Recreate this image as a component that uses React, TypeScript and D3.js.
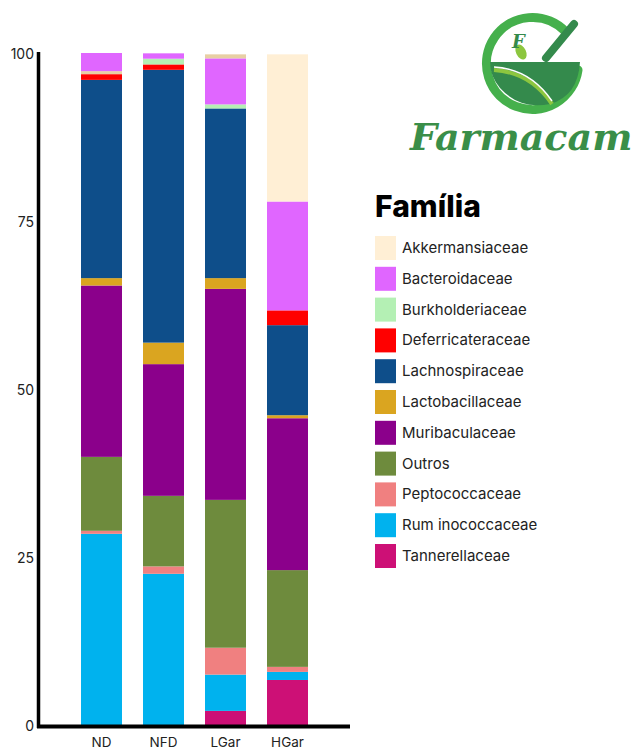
import React from 'react';
import * as d3 from 'd3';

// grupos no eixo x
const groups = ['ND', 'NFD', 'LGar', 'HGar'];

// famílias na ordem da legenda (topo da pilha -> base)
const families = [
  'Akkermansiaceae', 'Bacteroidaceae', 'Burkholderiaceae', 'Deferricateraceae',
  'Lachnospiraceae', 'Lactobacillaceae', 'Muribaculaceae', 'Outros',
  'Peptococcaceae', 'Rum inococcaceae', 'Tannerellaceae',
];
const familyColors = [
  '#ffefd5', '#e066ff', '#b4f0b4', '#ff0000', '#0e4e8a', '#daa520',
  '#8b008b', '#6e8b3d', '#f08080', '#00b2ee', '#cd1076',
];
// faixa fina sem legenda
const semLegenda = 'n.i.';
const semLegendaColor = '#e8cfa4';

// segmentos de cada barra, de cima para baixo (abundância relativa, %)
const ND: [string, number][] = [
  ['Bacteroidaceae', 2.7], [semLegenda, 0.45], ['Deferricateraceae', 0.85],
  ['Lachnospiraceae', 29.5], ['Lactobacillaceae', 1.1], ['Muribaculaceae', 25.5],
  ['Outros', 11], ['Peptococcaceae', 0.45], ['Rum inococcaceae', 28.45],
];
const NFD: [string, number][] = [
  ['Bacteroidaceae', 0.8], ['Burkholderiaceae', 0.85], ['Deferricateraceae', 0.8],
  ['Lachnospiraceae', 40.6], ['Lactobacillaceae', 3.2], ['Muribaculaceae', 19.6],
  ['Outros', 10.5], ['Peptococcaceae', 1.1], ['Rum inococcaceae', 22.5],
];
const LGar: [string, number][] = [
  [semLegenda, 0.6], ['Bacteroidaceae', 6.85], ['Burkholderiaceae', 0.6],
  ['Lachnospiraceae', 25.25], ['Lactobacillaceae', 1.6], ['Muribaculaceae', 31.4],
  ['Outros', 22], ['Peptococcaceae', 4], ['Rum inococcaceae', 5.4], ['Tannerellaceae', 2.1],
];
const HGar: [string, number][] = [
  ['Akkermansiaceae', 21.9], ['Bacteroidaceae', 16.2], ['Deferricateraceae', 2.2],
  ['Lachnospiraceae', 13.4], ['Lactobacillaceae', 0.45], ['Muribaculaceae', 22.6],
  ['Outros', 14.4], ['Peptococcaceae', 0.75], ['Rum inococcaceae', 1.2], ['Tannerellaceae', 6.7],
];
const barData = [ND, NFD, LGar, HGar];

const yTicks = [0, 25, 50, 75, 100];

const W = 638, H = 749;
const font = 'Inter, "Noto Sans", sans-serif';

const App = () => {
  const x = d3.scaleBand<string>().domain(groups).range([70.5, 318.5])
    .paddingInner(0.339).paddingOuter(0.1695);
  const y = d3.scaleLinear().domain([0, 100]).range([725, 53]);
  const color = d3.scaleOrdinal<string, string>()
    .domain([...families, semLegenda])
    .range([...familyColors, semLegendaColor]);
  const legendY = d3.scalePoint<string>().domain(families).range([248, 556]);

  const bars = barData.map((segs, gi) => {
    // empilha de baixo para cima
    const bottomUp = segs.slice().reverse();
    const tops = d3.cumsum(bottomUp.map(d => d[1]));
    return bottomUp.map(([fam, v], i) => {
      const y1 = y(tops[i]);
      const y0 = y(tops[i] - v);
      return (
        <rect key={groups[gi] + fam + i} x={x(groups[gi])} width={x.bandwidth()}
          y={y1} height={y0 - y1} fill={color(fam)} />
      );
    });
  });

  return (
    <svg width={W} height={H} style={{ position: 'absolute', left: 0, top: 0 }}
      fontFamily={font}>
      <rect width={W} height={H} fill="#fff" />
      {bars}

      {/* eixos */}
      <line x1={38.5} x2={38.5} y1={y(100) - 1} y2={y(0) + 3} stroke="#000" strokeWidth={3.5} />
      <line x1={37} x2={350} y1={y(0) + 1.5} y2={y(0) + 1.5} stroke="#000" strokeWidth={4} />
      {yTicks.map(t => (
        <text key={t} x={34} y={y(t) + 2} textAnchor="end" dominantBaseline="middle"
          fontSize={14} fill="#222">{t}</text>
      ))}
      {groups.map(g => (
        <text key={g} x={(x(g) ?? 0) + x.bandwidth() / 2} y={747} textAnchor="middle"
          fontSize={13.5} fill="#222">{g}</text>
      ))}

      {/* legenda */}
      <text x={375} y={217} fontSize={30} fontWeight={800} fill="#000">Família</text>
      {families.map(f => (
        <g key={f} transform={`translate(375,${legendY(f)})`}>
          <rect x={0} y={-12} width={21} height={24} fill={color(f)} />
          <text x={27} y={1} dominantBaseline="middle" fontSize={15} fill="#222">{f}</text>
        </g>
      ))}

      {/* logo */}
      <g>
        <path d="M 566 32 A 46 46 0 1 0 578 70" fill="none" stroke="#45b04c" strokeWidth={9} strokeLinecap="round" />
        <path d="M 490 62 L 580 62 Q 578 96 550 104 Q 520 110 500 88 Q 490 76 490 62 Z" fill="#348a4c" />
        <path d="M 494 70 Q 530 72 552 104" fill="none" stroke="#8cc63f" strokeWidth={4} />
        <path d="M 494 70 Q 530 72 552 104" fill="none" stroke="#fff" strokeWidth={1.5} transform="translate(0,-3)" />
        <line x1={546} y1={58} x2={574} y2={24} stroke="#348a4c" strokeWidth={8} strokeLinecap="round" />
        <ellipse cx={521} cy={52} rx={5} ry={8} fill="#8cc63f" transform="rotate(-25 521 52)" />
        <text x={512} y={48} fontSize={18} fontStyle="italic" fontWeight={700} fill="#348a4c"
          fontFamily='"DejaVu Serif", serif'>F</text>
        <text x={410} y={150} fontSize={38} fontStyle="italic" fontWeight={700} fill="#3a8e48"
          fontFamily='"DejaVu Serif", serif'>Farmacam</text>
      </g>
    </svg>
  );
};

export default App;
